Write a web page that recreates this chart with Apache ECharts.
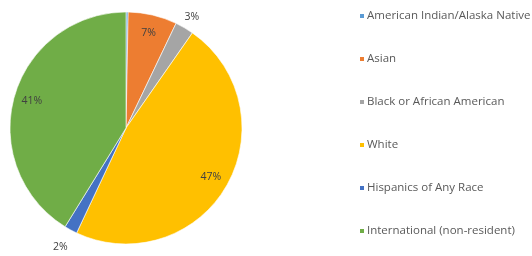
<!DOCTYPE html>
<html><head><meta charset="utf-8">
<script src="https://cdn.jsdelivr.net/npm/echarts@6/dist/echarts.min.js"></script>
<style>html,body{margin:0;padding:0;background:#fff}#c{width:532px;height:256px}</style>
</head><body><div id="c"></div>
<script>
const categories = ['American Indian/Alaska Native','Asian','Black or African American','White','Hispanics of Any Race','International (non-resident)'];
const values = [0.3, 6.8, 2.6, 47.3, 1.8, 41.2];
const colors = ['#5B9BD5','#ED7D31','#A5A5A5','#FFC000','#4472C4','#70AD47'];
const labelPlacement = ['none','inside','outside','inside','outside','inside'];
const outsideLen = [0, 0, 12, 0, 19, 0];

const total = values.reduce((a,b)=>a+b,0);
const pct = v => Math.round(v/total*100) + '%';
const font = '"Open Sans", Lato, sans-serif';

const mainData = categories.map((n,i)=>({
  name:n, value:values[i], itemStyle:{color:colors[i]},
  label:{show: labelPlacement[i]==='outside'},
  labelLine:{show:false, length:outsideLen[i], length2:0}
}));
const ringData = categories.map((n,i)=>({
  name:n, value:values[i],
  label:{show: labelPlacement[i]==='inside'}
}));

const chart = echarts.init(document.getElementById('c'), null, {renderer:'canvas'});
chart.setOption({
  animation:false,
  backgroundColor:'#fff',
  legend:{
    orient:'vertical', left:358, top:10, padding:0, itemWidth:6, itemHeight:6, icon:'rect',
    itemGap:31, data:categories,
    textStyle:{color:'#595959', fontSize:11.5, fontFamily:font, padding:[0,0,0,-3]}
  },
  series:[
    {
      type:'pie', center:[126,128], radius:116, startAngle:90, clockwise:true,
      silent:true, avoidLabelOverlap:false,
      itemStyle:{borderColor:'#fff', borderWidth:0.6},
      label:{position:'outside', formatter:p=>pct(p.value), color:'#404040', fontSize:10.5, fontFamily:font, edgeDistance:0, distanceToLabelLine:-6},
      labelLine:{show:false, length:12, length2:0},
      data:mainData
    },
    {
      type:'pie', center:[126,128], radius:[74,116], startAngle:90, clockwise:true,
      silent:true, legendHoverLink:false,
      itemStyle:{color:'rgba(0,0,0,0)'},
      label:{position:'inside', formatter:p=>pct(p.value), color:'#404040', fontSize:10.5, fontFamily:font},
      labelLine:{show:false},
      data:ringData
    }
  ]
});
</script></body></html>
